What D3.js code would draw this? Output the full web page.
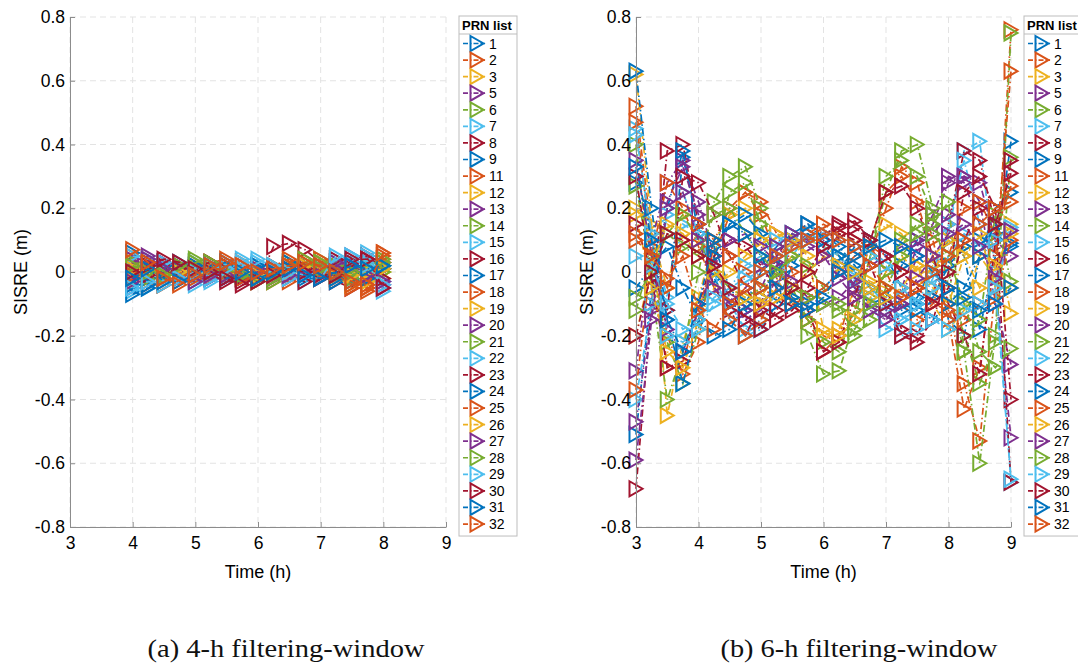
<!DOCTYPE html>
<html>
<head>
<meta charset="utf-8">
<script src="https://cdn.jsdelivr.net/npm/d3@7/dist/d3.min.js"></script>
<style>
  html, body { margin: 0; padding: 0; background: #fff; overflow: hidden; }
  svg { display: block; }
</style>
</head>
<body>
<svg id="chart" width="1078" height="664"></svg>
<script>
// PRN numbers of the satellites shown in both panels
const prnList = [1, 2, 3, 5, 6, 7, 8, 9, 11, 12, 13, 14, 15, 16, 17, 18, 19, 20, 21, 22, 23, 24, 25, 26, 27, 28, 29, 30, 31, 32];

// Epochs (hours)
const timesA = [4.0, 4.25, 4.5, 4.75, 5.0, 5.25, 5.5, 5.75, 6.0, 6.25, 6.5, 6.75, 7.0, 7.25, 7.5, 7.75, 8.0];
const timesB = [3.0, 3.25, 3.5, 3.75, 4.0, 4.25, 4.5, 4.75, 5.0, 5.25, 5.5, 5.75, 6.0, 6.25, 6.5, 6.75, 7.0, 7.25, 7.5, 7.75, 8.0, 8.25, 8.5, 8.75, 9.0];

// SISRE (m), 4-h filtering window, one row per PRN
const sisreA = [
  [0.06, 0.03, 0.0, -0.02, -0.03, -0.02, 0.0, 0.02, 0.02, 0.0, -0.01, -0.02, 0.0, 0.02, 0.03, 0.04, 0.02],
  [0.04, -0.04, -0.03, -0.01, 0.01, 0.02, 0.02, 0.01, -0.02, -0.03, -0.01, 0.02, 0.03, 0.02, -0.01, -0.05, 0.06],
  [0.03, 0.02, 0.01, 0.0, -0.01, -0.01, 0.0, 0.01, 0.01, 0.0, -0.01, 0.0, 0.02, 0.02, 0.01, -0.01, -0.02],
  [-0.05, 0.04, 0.02, 0.0, -0.01, -0.02, -0.02, -0.01, 0.0, 0.01, 0.02, 0.01, 0.0, -0.02, 0.05, 0.04, -0.04],
  [-0.02, 0.0, 0.01, 0.02, 0.03, 0.03, 0.02, 0.0, -0.02, -0.03, 0.0, 0.03, 0.04, 0.03, 0.01, -0.03, 0.02],
  [-0.04, -0.02, 0.0, 0.02, 0.03, 0.02, 0.01, 0.04, 0.03, 0.01, -0.01, -0.03, -0.02, 0.02, 0.05, 0.06, -0.05],
  [0.01, 0.02, 0.03, 0.02, 0.01, 0.0, -0.01, -0.02, -0.03, 0.08, 0.09, 0.07, 0.03, -0.03, -0.05, 0.03, 0.03],
  [0.0, -0.02, -0.01, 0.0, 0.01, 0.02, 0.0, -0.01, -0.01, 0.0, 0.01, 0.02, 0.01, -0.01, -0.02, 0.02, 0.01],
  [0.05, -0.03, -0.04, -0.02, 0.0, 0.03, 0.04, 0.03, 0.0, -0.02, -0.03, 0.0, 0.04, 0.02, -0.04, -0.06, 0.03],
  [-0.01, 0.0, 0.02, 0.01, 0.0, -0.01, 0.0, 0.02, 0.01, 0.0, 0.01, 0.02, 0.03, 0.0, -0.03, -0.02, 0.0],
  [0.02, 0.05, 0.03, 0.01, -0.01, -0.02, -0.02, 0.0, 0.01, 0.01, 0.0, -0.01, -0.02, -0.01, 0.02, 0.03, -0.05],
  [0.03, 0.01, 0.0, -0.01, 0.03, 0.02, 0.0, -0.02, -0.01, -0.02, 0.0, 0.02, 0.03, 0.02, 0.0, -0.02, 0.03],
  [-0.06, -0.05, -0.03, -0.01, -0.04, -0.02, 0.0, 0.01, 0.0, -0.01, 0.02, -0.01, 0.0, 0.03, 0.05, 0.03, -0.06],
  [0.0, 0.03, 0.02, 0.01, 0.0, -0.01, -0.03, -0.03, -0.02, 0.0, -0.02, -0.03, -0.02, 0.0, 0.03, 0.05, 0.01],
  [-0.07, -0.05, -0.02, 0.0, 0.0, -0.01, -0.01, 0.0, 0.02, 0.01, 0.0, 0.0, -0.01, -0.03, -0.01, 0.0, 0.01],
  [0.02, -0.02, -0.04, -0.01, 0.0, 0.01, 0.0, -0.02, -0.02, 0.0, 0.03, 0.04, 0.02, 0.0, -0.05, -0.05, 0.05],
  [-0.03, 0.0, 0.01, 0.02, 0.0, -0.01, -0.01, 0.0, 0.0, 0.0, 0.0, 0.01, 0.0, -0.02, -0.04, -0.03, 0.0],
  [0.04, 0.02, 0.03, 0.02, 0.01, 0.0, -0.01, -0.02, -0.02, -0.01, 0.0, 0.01, 0.02, 0.01, 0.0, -0.01, -0.03],
  [0.0, -0.02, -0.01, 0.0, 0.01, 0.0, 0.01, -0.01, -0.02, -0.01, 0.03, 0.04, 0.02, -0.01, -0.02, 0.01, 0.0],
  [0.05, 0.04, 0.03, 0.01, -0.02, -0.03, 0.03, 0.02, 0.0, -0.01, -0.02, 0.0, 0.01, 0.04, 0.03, 0.05, -0.03],
  [-0.02, -0.01, 0.0, 0.01, 0.02, 0.03, 0.02, 0.0, -0.01, 0.0, 0.02, 0.01, -0.01, 0.04, 0.03, 0.04, -0.02],
  [-0.04, -0.04, 0.01, 0.03, 0.02, 0.0, -0.02, -0.01, 0.0, 0.02, 0.03, 0.02, 0.01, -0.02, -0.03, -0.02, 0.02],
  [-0.01, 0.01, -0.02, -0.03, -0.02, 0.0, 0.02, -0.02, -0.03, 0.02, 0.04, 0.02, 0.0, -0.01, -0.04, -0.04, 0.04],
  [0.01, 0.0, -0.01, 0.0, 0.01, 0.02, 0.01, 0.0, -0.01, -0.01, 0.0, 0.02, 0.01, 0.0, -0.01, 0.0, 0.01],
  [-0.03, 0.04, 0.01, -0.02, -0.03, -0.01, 0.01, 0.02, 0.0, -0.02, -0.01, 0.0, 0.01, 0.03, 0.02, -0.01, -0.03],
  [0.02, 0.0, -0.01, 0.02, 0.04, 0.03, 0.01, -0.01, -0.03, -0.02, 0.02, 0.03, 0.01, -0.01, 0.0, 0.02, 0.04],
  [-0.05, -0.03, -0.04, -0.02, 0.0, 0.02, 0.01, 0.03, 0.04, 0.02, 0.0, -0.01, -0.02, 0.05, 0.04, 0.02, -0.04],
  [0.0, 0.02, 0.04, 0.03, 0.01, 0.0, -0.02, -0.04, -0.03, -0.01, 0.01, 0.0, -0.02, -0.01, 0.04, 0.04, -0.05],
  [-0.02, 0.01, -0.03, -0.03, -0.01, 0.02, 0.03, 0.0, -0.02, 0.0, 0.01, -0.01, -0.02, 0.0, 0.02, 0.01, 0.02],
  [0.07, 0.03, -0.02, -0.04, -0.01, 0.02, 0.03, 0.02, 0.0, 0.01, 0.02, 0.03, 0.02, 0.0, -0.03, -0.04, 0.06]
];

// SISRE (m), 6-h filtering window, one row per PRN
const sisreB = [
  [0.28, 0.05, -0.12, 0.36, 0.15, 0.08, -0.05, -0.12, -0.18, -0.10, 0.02, 0.10, 0.12, 0.08, 0.02, -0.05, -0.10, -0.12, -0.08, 0.02, 0.10, 0.05, -0.18, 0.05, 0.41],
  [0.52, 0.12, -0.30, -0.28, -0.12, 0.05, 0.18, 0.25, 0.22, 0.12, 0.0, -0.12, -0.20, -0.22, -0.12, 0.05, 0.20, 0.33, 0.28, 0.10, -0.10, -0.35, -0.53, -0.05, 0.76],
  [0.62, 0.15, -0.45, -0.22, -0.08, 0.10, 0.18, 0.20, 0.10, -0.02, -0.10, -0.15, -0.20, -0.18, -0.05, 0.08, 0.15, 0.12, 0.02, -0.10, -0.18, -0.12, 0.05, 0.10, -0.13],
  [-0.31, 0.10, 0.28, 0.35, 0.22, 0.05, -0.10, -0.15, -0.12, -0.02, 0.08, 0.12, 0.10, 0.05, -0.05, -0.12, -0.15, -0.08, 0.05, 0.15, 0.28, 0.30, 0.22, -0.05, -0.52],
  [0.40, -0.05, -0.40, -0.25, 0.0, 0.22, 0.30, 0.33, 0.20, 0.05, -0.08, -0.20, -0.32, -0.31, -0.15, 0.05, 0.25, 0.38, 0.40, 0.20, -0.05, -0.25, -0.60, -0.20, 0.75],
  [0.45, 0.10, -0.08, 0.15, 0.12, 0.02, -0.10, -0.18, -0.15, -0.05, 0.05, 0.12, 0.10, 0.05, -0.02, -0.08, -0.12, -0.15, -0.12, -0.02, 0.12, 0.38, 0.41, 0.0, -0.66],
  [-0.68, -0.10, 0.38, 0.40, 0.15, -0.05, -0.12, -0.20, -0.10, 0.05, 0.12, 0.15, 0.12, 0.14, 0.16, 0.10, -0.05, -0.18, -0.20, -0.08, 0.15, 0.38, 0.35, 0.15, -0.66],
  [-0.51, -0.05, 0.20, 0.38, 0.12, -0.02, -0.10, -0.12, -0.08, 0.02, 0.10, 0.12, 0.08, 0.02, -0.05, -0.10, -0.08, 0.02, 0.10, 0.05, -0.15, -0.20, 0.05, 0.20, 0.25],
  [0.47, 0.08, -0.20, -0.32, -0.22, 0.10, 0.20, 0.25, 0.18, 0.05, -0.10, -0.15, -0.25, -0.20, -0.05, 0.10, 0.25, 0.30, 0.22, 0.05, -0.15, -0.43, -0.30, 0.05, 0.63],
  [0.20, 0.12, -0.05, 0.18, 0.10, 0.02, -0.05, -0.10, -0.08, 0.0, 0.05, 0.10, 0.08, 0.05, 0.0, -0.03, -0.05, -0.08, -0.05, 0.02, 0.05, 0.08, 0.05, -0.02, 0.15],
  [-0.47, -0.12, 0.22, 0.33, 0.18, 0.02, -0.08, -0.12, -0.05, 0.05, 0.10, 0.08, 0.05, 0.0, -0.05, -0.10, -0.12, -0.05, 0.08, 0.18, 0.30, 0.28, 0.15, -0.10, -0.29],
  [0.27, 0.0, -0.22, -0.35, -0.18, 0.05, 0.25, 0.28, 0.15, 0.02, -0.05, -0.15, -0.22, -0.25, -0.12, 0.05, 0.30, 0.35, 0.30, 0.18, 0.0, -0.20, -0.35, -0.22, 0.36],
  [-0.40, -0.10, 0.18, 0.25, 0.12, 0.0, -0.15, -0.20, -0.18, -0.05, 0.10, 0.15, 0.12, 0.05, -0.03, -0.10, -0.18, -0.15, -0.10, 0.0, 0.15, 0.35, 0.15, -0.05, 0.13],
  [0.30, -0.02, -0.30, -0.28, -0.10, 0.05, 0.10, 0.08, 0.02, -0.05, -0.10, -0.12, -0.25, -0.22, -0.08, 0.10, 0.25, 0.27, 0.20, 0.05, -0.10, -0.20, -0.32, 0.10, 0.35],
  [0.63, 0.20, -0.15, -0.35, -0.15, 0.05, 0.15, 0.18, 0.12, 0.02, -0.08, -0.10, -0.05, 0.0, 0.08, 0.10, 0.05, -0.05, -0.10, -0.08, 0.02, 0.08, 0.10, 0.12, 0.08],
  [-0.37, 0.05, 0.28, 0.20, 0.08, -0.05, -0.15, -0.20, -0.15, -0.05, 0.08, 0.12, 0.15, 0.12, 0.10, 0.08, 0.0, -0.10, -0.15, -0.10, 0.05, 0.20, 0.22, 0.12, 0.27],
  [0.18, -0.05, -0.25, -0.30, -0.15, -0.05, 0.0, 0.05, 0.10, 0.12, 0.10, 0.05, -0.18, -0.20, -0.15, -0.08, 0.0, 0.05, 0.0, -0.05, -0.10, 0.05, 0.12, -0.05, -0.05],
  [0.35, 0.05, -0.18, -0.25, -0.12, 0.02, 0.10, 0.12, 0.08, 0.03, -0.03, -0.08, -0.10, -0.08, -0.03, 0.02, 0.05, 0.08, 0.10, 0.12, 0.18, 0.30, 0.28, 0.10, 0.05],
  [-0.12, 0.05, 0.12, 0.18, 0.10, 0.0, -0.05, -0.08, -0.05, 0.0, 0.05, 0.02, -0.05, -0.10, -0.20, -0.15, -0.05, 0.05, 0.12, 0.15, 0.22, -0.25, -0.15, 0.18, -0.03],
  [0.43, 0.12, -0.20, -0.22, -0.18, -0.10, -0.05, 0.02, 0.05, 0.10, 0.12, 0.10, 0.08, 0.05, 0.0, -0.05, -0.10, -0.20, -0.18, -0.05, 0.05, 0.12, 0.08, 0.10, 0.14],
  [0.15, 0.0, -0.12, 0.30, 0.28, 0.18, 0.05, -0.05, -0.12, -0.15, -0.12, -0.05, 0.05, 0.12, 0.10, 0.02, -0.10, -0.20, -0.22, -0.15, 0.0, 0.25, 0.30, 0.20, -0.40],
  [-0.05, 0.02, 0.08, -0.05, -0.15, -0.20, -0.18, -0.10, 0.0, 0.08, 0.12, 0.15, 0.10, 0.05, 0.0, -0.05, -0.08, -0.10, -0.12, -0.15, -0.10, -0.05, 0.05, 0.15, 0.09],
  [0.12, 0.05, -0.05, 0.10, 0.15, 0.10, 0.05, 0.0, -0.05, -0.08, -0.10, -0.08, -0.05, 0.0, 0.05, 0.08, 0.05, 0.0, -0.05, -0.10, -0.12, -0.15, -0.10, -0.08, 0.10],
  [-0.20, 0.02, 0.15, 0.12, 0.05, 0.0, -0.05, -0.08, -0.10, -0.08, -0.05, 0.0, 0.05, 0.02, 0.0, -0.05, -0.08, -0.05, 0.02, 0.05, 0.10, 0.05, -0.05, 0.02, 0.12],
  [-0.59, -0.15, 0.20, 0.25, 0.10, -0.05, -0.10, -0.05, 0.02, 0.08, 0.12, 0.10, 0.05, -0.02, -0.08, -0.12, -0.15, -0.10, -0.02, 0.05, 0.12, 0.15, 0.08, -0.02, 0.13],
  [-0.08, 0.0, 0.12, 0.08, 0.05, 0.18, 0.20, 0.12, 0.05, 0.0, -0.05, -0.08, -0.10, -0.12, -0.18, -0.10, 0.0, 0.10, 0.15, 0.12, 0.05, -0.10, -0.25, -0.30, -0.24],
  [0.05, 0.02, -0.10, -0.18, -0.15, -0.08, -0.05, -0.02, 0.0, 0.05, 0.08, 0.10, 0.12, 0.10, 0.08, 0.05, 0.02, -0.05, -0.10, -0.15, -0.18, -0.12, -0.10, -0.05, -0.65],
  [-0.20, 0.0, 0.12, 0.10, 0.05, 0.02, -0.05, -0.15, -0.18, -0.12, -0.05, 0.0, 0.08, 0.15, 0.14, 0.10, 0.05, 0.0, -0.05, -0.10, -0.05, 0.10, 0.20, 0.15, 0.31],
  [0.33, 0.10, -0.15, -0.25, -0.10, 0.10, 0.15, 0.12, 0.05, -0.05, -0.10, -0.12, -0.08, 0.0, 0.05, 0.08, 0.10, 0.08, 0.05, 0.0, -0.05, -0.08, -0.12, -0.10, -0.05],
  [0.10, 0.05, -0.02, 0.05, -0.12, -0.18, -0.10, -0.05, 0.0, 0.05, 0.08, 0.10, 0.12, 0.10, 0.08, 0.02, -0.05, -0.08, -0.05, 0.0, 0.05, 0.10, 0.15, 0.20, 0.22]
];

const xTicks = [3, 4, 5, 6, 7, 8, 9];
const yTicks = [-0.8, -0.6, -0.4, -0.2, 0, 0.2, 0.4, 0.6, 0.8];
const yTickLabels = ["-0.8", "-0.6", "-0.4", "-0.2", "0", "0.2", "0.4", "0.6", "0.8"];
const captions = ["(a) 4-h filtering-window", "(b) 6-h filtering-window"];

// MATLAB default line colour order
const palette = ["#0072BD", "#D95319", "#EDB120", "#7E2F8E", "#77AC30", "#4DBEEE", "#A2142F"];

const svg = d3.select("#chart");
const FONT = "'Liberation Sans', Arial, Helvetica, sans-serif";

// right-pointing open triangle marker
const triW = 13, triH = 15;
function triPath(cx, cy) {
  return `M${cx - triW / 2},${cy - triH / 2}L${cx + triW / 2},${cy}L${cx - triW / 2},${cy + triH / 2}Z`;
}
const dashStyle = "7,3,1.5,3";

function drawPanel(cfg) {
  const g = svg.append("g");
  const x = d3.scaleLinear().domain([3, 9]).range([cfg.left, cfg.right]);
  const y = d3.scaleLinear().domain([-0.8, 0.8]).range([cfg.bottom, cfg.top]);

  // grid
  const grid = g.append("g");
  grid.selectAll("line.vx").data(xTicks).join("line")
    .attr("x1", d => x(d)).attr("x2", d => x(d))
    .attr("y1", cfg.top).attr("y2", cfg.bottom)
    .attr("stroke", "#e3e3e3").attr("stroke-width", 1).attr("stroke-dasharray", "6,4");
  grid.selectAll("line.hy").data(yTicks).join("line")
    .attr("x1", cfg.left).attr("x2", cfg.right)
    .attr("y1", d => y(d)).attr("y2", d => y(d))
    .attr("stroke", "#e3e3e3").attr("stroke-width", 1).attr("stroke-dasharray", "6,4");

  // series
  const line = d3.line().x(d => x(d[0])).y(d => y(d[1]));
  cfg.values.forEach((vals, i) => {
    const pts = cfg.times.map((t, j) => [t, vals[j]]);
    const color = palette[i % palette.length];
    const sg = g.append("g");
    sg.append("path").attr("d", line(pts))
      .attr("fill", "none").attr("stroke", color).attr("stroke-width", 1.7)
      .attr("stroke-dasharray", dashStyle);
    sg.selectAll("path.m").data(pts).join("path")
      .attr("d", d => triPath(x(d[0]), y(d[1])))
      .attr("fill", "none").attr("stroke", color).attr("stroke-width", 2)
      .attr("stroke-linejoin", "miter");
  });

  // axes
  const xAxis = d3.axisBottom(x).tickValues(xTicks).tickFormat(d3.format("d"))
    .tickSizeInner(-5).tickSizeOuter(0).tickPadding(10);
  const yAxis = d3.axisLeft(y).tickValues(yTicks)
    .tickFormat((d, i) => yTickLabels[i]).tickSizeInner(-5).tickSizeOuter(0).tickPadding(5);

  const gx = g.append("g").attr("transform", `translate(0,${cfg.bottom})`).call(xAxis);
  const gy = g.append("g").attr("transform", `translate(${cfg.left},0)`).call(yAxis);
  [gx, gy].forEach(a => {
    a.select(".domain").attr("stroke", "#8c8c8c").attr("stroke-width", 1);
    a.selectAll(".tick line").attr("stroke", "#8c8c8c");
    a.selectAll(".tick text").attr("fill", "#000").style("font-family", FONT).style("font-size", "17.5px");
  });
  gx.selectAll(".tick text").attr("dy", "0.71em");

  g.append("text").attr("x", (cfg.left + cfg.right) / 2).attr("y", cfg.bottom + 51)
    .attr("text-anchor", "middle").style("font-family", FONT).style("font-size", "18px")
    .attr("fill", "#000").text("Time (h)");
  g.append("text")
    .attr("transform", `translate(${cfg.ylabX},${(cfg.top + cfg.bottom) / 2}) rotate(-90)`)
    .attr("text-anchor", "middle").style("font-family", FONT).style("font-size", "18px")
    .attr("fill", "#000").text("SISRE (m)");

  // legend
  const lg = svg.append("g");
  const lx = cfg.legX, ly = 16, lw = 58, rowH = 16.57, firstRow = 43.5;
  const lh = firstRow - ly + rowH * (prnList.length - 1) + 12;
  lg.append("rect").attr("x", lx).attr("y", ly).attr("width", lw).attr("height", lh)
    .attr("fill", "#fff").attr("stroke", "#bdbdbd").attr("stroke-width", 1);
  lg.append("line").attr("x1", lx).attr("x2", lx + lw).attr("y1", ly + 18).attr("y2", ly + 18)
    .attr("stroke", "#bdbdbd").attr("stroke-width", 1);
  lg.append("text").attr("x", lx + 3).attr("y", ly + 14)
    .style("font-family", FONT).style("font-size", "13px").style("font-weight", "bold")
    .attr("fill", "#000").text("PRN list");
  prnList.forEach((p, i) => {
    const cy = firstRow + i * rowH;
    const color = palette[i % palette.length];
    lg.append("line").attr("x1", lx + 4).attr("x2", lx + 26).attr("y1", cy).attr("y2", cy)
      .attr("stroke", color).attr("stroke-width", 1.7).attr("stroke-dasharray", "5,2,1.5,2");
    lg.append("path").attr("d", triPath(lx + 18, cy))
      .attr("fill", "none").attr("stroke", color).attr("stroke-width", 2);
    lg.append("text").attr("x", lx + 30).attr("y", cy + 5)
      .style("font-family", FONT).style("font-size", "14px").attr("fill", "#000").text(p);
  });

  // caption
  svg.append("text").attr("x", cfg.capX).attr("y", 657).attr("text-anchor", "middle")
    .style("font-family", "'Liberation Serif', 'DejaVu Serif', serif").style("font-size", "25px")
    .attr("textLength", 277).attr("lengthAdjust", "spacingAndGlyphs")
    .attr("fill", "#111").text(cfg.caption);
}

drawPanel({ left: 70, right: 446, top: 17, bottom: 527, ylabX: 27, legX: 459,
  times: timesA, values: sisreA, caption: captions[0], capX: 286 });
drawPanel({ left: 636, right: 1011, top: 17, bottom: 527, ylabX: 593, legX: 1024,
  times: timesB, values: sisreB, caption: captions[1], capX: 859 });
</script>
</body>
</html>
